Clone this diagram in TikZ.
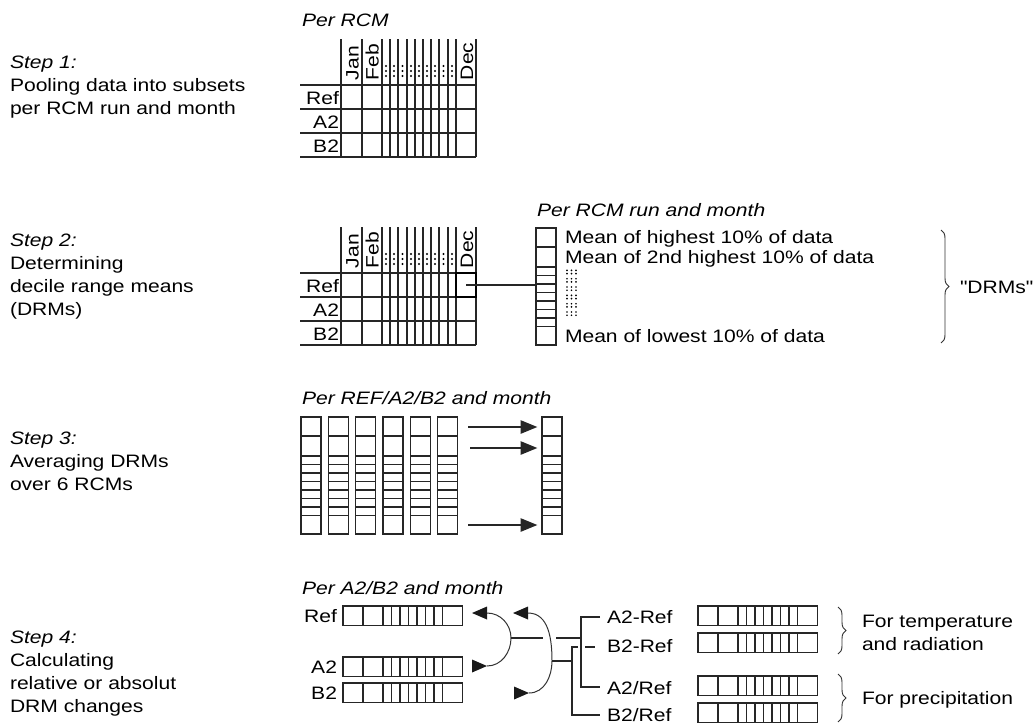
\documentclass[tikz,border=0pt]{standalone}
\usepackage{fontspec}
\setmainfont{Liberation Sans}[FakeStretch=1.17]
\newfontfamily\plainfont{Liberation Sans}[FakeStretch=1.17]
\usetikzlibrary{arrows.meta,calc,decorations.pathreplacing}
\newcommand\decv[3]{%
  \node[cellbox,minimum width=15pt,minimum height=87.75pt,anchor=north west] (#1) at (#2,#3) {};
  \foreach \o in {19,39,47.5,56,64.5,73,81.5,90,98.5} \draw[cell] ($(#1.north west)+(0,\o)$) -- ++(20,0);
}
\newcommand\dech[3]{%
  \node[cellbox,minimum width=89.625pt,minimum height=14.6pt,anchor=north west] (#1) at (#2,#3) {};
  \foreach \o in {20,40,48.5,57,65.5,74,82.5,91,99.5} \draw[cell] ($(#1.north west)+(\o,0)$) -- ++(0,19.5);
}
\begin{document}
\begin{tikzpicture}[x=0.75pt,y=-0.75pt,
  txt/.style={inner sep=0pt,outer sep=0pt,font=\fontsize{13.5}{16}\selectfont},
  itx/.style={txt,font=\fontsize{13.5}{16}\selectfont\itshape},
  grid/.style={line width=1.2pt,black!85},
  cellbox/.style={draw,line width=1pt,black!85,inner sep=0pt,outer sep=0pt},
  cell/.style={line width=1pt,black!85},
  thin/.style={line width=0.85pt,black!85},
  arr/.style={line width=1pt,black!85,-{Triangle[length=12.5pt,width=10pt]},shorten >=3.5pt},
  curv/.style={line width=0.75pt,black!80},
  tip/.style={fill=black!90},
  brc/.style={decorate,decoration={brace,amplitude=6pt},line width=0.7pt,black!80}]
\useasboundingbox (0,0) rectangle (1034,725);

% ---------- left step texts ----------
\node[itx,anchor=base west] (s1) at (10,68) {Step 1:};
\node[txt,anchor=base west] (s1a) at (10,91) {Pooling data into subsets};
\node[txt,anchor=base west] (s1b) at (10,114) {per RCM run and month};
\node[itx,anchor=base west] (s2) at (10,246) {Step 2:};
\node[txt,anchor=base west] (s2a) at (10,269) {Determining};
\node[txt,anchor=base west] (s2b) at (10,292) {decile range means};
\node[txt,anchor=base west] (s2c) at (10,315) {(DRMs)};
\node[itx,anchor=base west] (s3) at (10,444) {Step 3:};
\node[txt,anchor=base west] (s3a) at (10,467) {Averaging DRMs};
\node[txt,anchor=base west] (s3b) at (10,490) {over 6 RCMs};
\node[itx,anchor=base west] (s4) at (10,643) {Step 4:};
\node[txt,anchor=base west] (s4a) at (10,666) {Calculating};
\node[txt,anchor=base west] (s4b) at (10,689) {relative or absolut};
\node[txt,anchor=base west] (s4c) at (10,712) {DRM changes};

% ---------- tables (step 1 and step 2) ----------
\node[itx,anchor=base west] (h1) at (302,26) {Per RCM};
\foreach \yo in {0,188} {
  \foreach \yy in {85,109,133,157} \draw[grid] (300,{\yy+\yo}) -- (476,{\yy+\yo});
  \foreach \xx in {341,362,382,390,398,407,415,423,431,439,448,456,476} \draw[grid] (\xx,{39+\yo}) -- (\xx,{157+\yo});
  \node[txt,rotate=90,anchor=base west] at (358.5,{80+\yo}) {Jan};
  \node[txt,rotate=90,anchor=base west] at (378.5,{80+\yo}) {Feb};
  \node[txt,rotate=90,anchor=base west] at (473,{80+\yo}) {Dec};
  \foreach \c in {386,394,402.5,411,419,427,435,443.5,452}
    \foreach \d in {66,71,76} \fill[black] (\c,{\d+\yo}) circle[radius=0.8pt];
  \node[txt,anchor=base east] at (339,{104+\yo}) {Ref};
  \node[txt,anchor=base east] at (339,{128+\yo}) {A2};
  \node[txt,anchor=base east] at (339,{152+\yo}) {B2};
}

% ---------- step 2 ----------
\node[itx,anchor=base west] (h2) at (537,216) {Per RCM run and month};
\decv{c2}{536}{228}
\node[draw,line width=1.9pt,black,minimum width=15pt,minimum height=18pt,anchor=north west,inner sep=0pt,outer sep=0pt] (dec) at (456,273) {};
\draw[thin] (dec.center) -- (dec.center -| c2.west);
\node[txt,anchor=base west] (m1) at (565,243.5) {Mean of highest 10\% of data};
\node[txt,anchor=base west] (m2) at (565,263) {Mean of 2nd highest 10\% of data};
\node[txt,anchor=base west] (m3) at (565,342) {Mean of lowest 10\% of data};
\foreach \g in {272,280.3,288.6,297,305.3,313.6}
  \foreach \c in {567,571.5,576}
    \foreach \d in {-1.6,1.6} \fill[black] (\c,{\g+\d}) circle[radius=0.7pt];
\draw[brc] (941,230) -- (941,343);
\node[txt,anchor=base west,font=\fontsize{13.5}{16}\plainfont] (drm) at (960,293) {"DRMs"};

% ---------- step 3 ----------
\node[itx,anchor=base west] (h3) at (302,404) {Per REF/A2/B2 and month};
\decv{s3a}{301}{417}
\decv{s3b}{328.3}{417}
\decv{s3c}{355.6}{417}
\decv{s3d}{383}{417}
\decv{s3e}{410.3}{417}
\decv{s3f}{437.6}{417}
\decv{s3r}{542}{417}
\coordinate (a1) at (468,427);
\coordinate (a2) at (470,448);
\coordinate (a3) at (468,525);
\draw[arr] (a1) -- (a1 -| s3r.west);
\draw[arr] (a2) -- (a2 -| s3r.west);
\draw[arr] (a3) -- (a3 -| s3r.west);

% ---------- step 4 ----------
\node[itx,anchor=base west] (h4) at (302,594) {Per A2/B2 and month};
\dech{rb}{343}{606}
\dech{ab}{343}{657}
\dech{bb}{343}{683}
\node[txt,anchor=base east] at (337,622) {Ref};
\node[txt,anchor=base east] at (337,673) {A2};
\node[txt,anchor=base east] at (337,699) {B2};

% curves
\coordinate (c1s) at (487,613);
\coordinate (c1m) at (511,638);
\coordinate (c1e) at (487,666);
\coordinate (c2s) at (528,613);
\coordinate (c2m) at (552,661);
\coordinate (c2e) at (529,693);
\draw[curv] (c1s) to[out=0,in=90] (c1m) to[out=-90,in=0] (c1e);
\draw[curv] (c2s) to[out=0,in=90] (c2m) to[out=-90,in=0] (c2e);
\fill[tip] (472,613) -- (c1s |- 0,606.5) -- (c1s |- 0,619.5) -- cycle;
\fill[tip] (c1e) -- (472,659.5) -- (472,672.5) -- cycle;
\fill[tip] (513,613) -- (c2s |- 0,606.5) -- (c2s |- 0,619.5) -- cycle;
\fill[tip] (c2e) -- (514,686.5) -- (514,699.5) -- cycle;

% trees
\coordinate (v1t) at (581,617);
\coordinate (v1b) at (581,687);
\coordinate (v2t) at (572,647);
\coordinate (v2b) at (572,715);
\draw[thin] (c1m) -- (543,638);
\draw[thin] (556,638) -- (v1t |- c1m);
\draw[thin] (c2m) -- (v2t |- c2m);
\draw[thin] (600,617) -- (v1t) -- (v1b) -- (600,687);
\draw[thin] (578,647) -- (v2t) -- (v2b) -- (600,715);
\draw[thin] (585,647) -- (595,647);

\node[txt,anchor=base west] (d1) at (607,623) {A2-Ref};
\node[txt,anchor=base west] (d2) at (607,652) {B2-Ref};
\node[txt,anchor=base west] (d3) at (607,694) {A2/Ref};
\node[txt,anchor=base west] (d4) at (607,721) {B2/Ref};
\dech{r1}{698}{606}
\dech{r2}{698}{633}
\dech{r3}{698}{676}
\dech{r4}{698}{703}
\draw[brc] (838,607) -- (838,654);
\draw[brc] (838,674) -- (838,722);
\node[txt,anchor=base west] (f1) at (862,627) {For temperature};
\node[txt,anchor=base west] (f2) at (862,650) {and radiation};
\node[txt,anchor=base west] (f3) at (862,704) {For precipitation};
\end{tikzpicture}
\end{document}
